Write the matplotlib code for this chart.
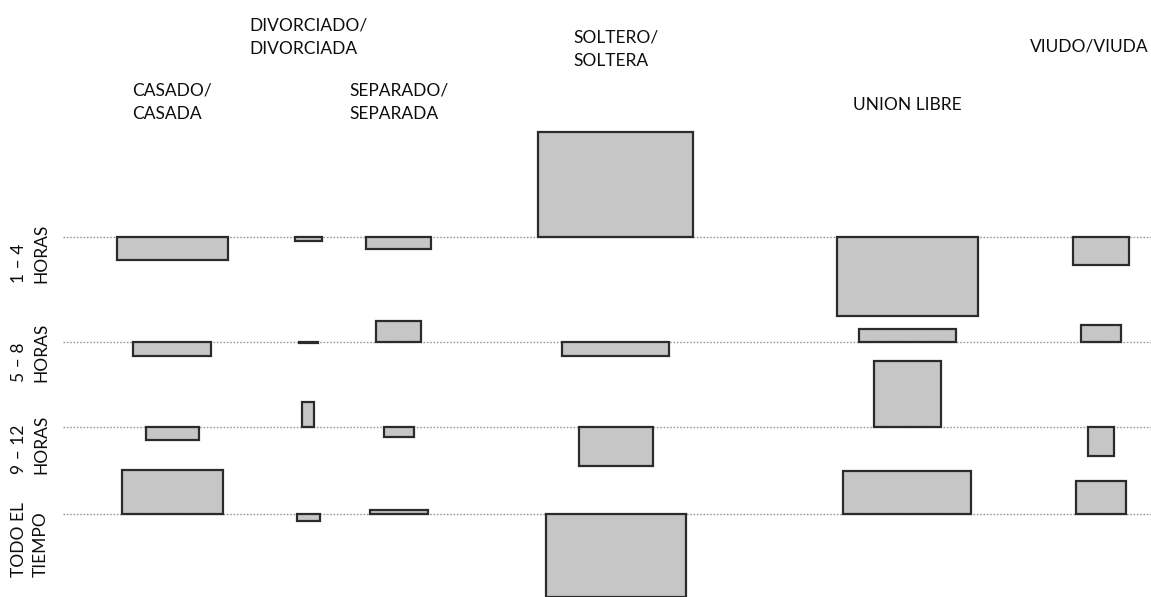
import matplotlib.pyplot as plt
import numpy as np

# Categorias (columnas: estado civil, filas: horas)
estado_civil = ["CASADO/\nCASADA", "DIVORCIADO/\nDIVORCIADA", "SEPARADO/\nSEPARADA",
                "SOLTERO/\nSOLTERA", "UNION LIBRE", "VIUDO/VIUDA"]
horas = ["1 – 4\nHORAS", "5 – 8\nHORAS", "9 – 12\nHORAS", "TODO EL\nTIEMPO"]

# raiz del valor esperado (ancho de cada caja)
raiz_esperado = np.array([
    [111, 27, 65, 155, 141, 56],
    [78, 19, 45, 107, 97, 40],
    [53, 12, 30, 74, 67, 26],
    [101, 23, 58, 140, 128, 50],
], dtype=float)

# residuo de Pearson (alto de cada caja, positivo = arriba)
residuo = np.array([
    [-23, -3.5, -12, 105, -79, -28],
    [-14, -1, 21, -14.5, 13, 17],
    [-13.5, 25, -10, -39, 66, -29],
    [43.5, -7.5, 4, -83, 43, 33],
], dtype=float)

# --- disposicion (estilo assocplot) ---
x0, y0 = 63, 132
esp_x = 1.97       # cada columna ocupa 1.97 veces su caja mas ancha
esp_y = 4.5        # hueco entre filas
ancho_col = raiz_esperado.max(axis=0) * esp_x
centros = x0 + np.cumsum(ancho_col) - ancho_col / 2

bases = []
cursor = y0
for i in range(len(horas)):
    arriba = max(residuo[i].max(), 0)
    abajo = max(-residuo[i].min(), 0)
    bases.append(cursor + arriba)
    cursor = cursor + arriba + abajo + esp_y
bases = np.array(bases)

fig = plt.figure(figsize=(11.51, 5.97), dpi=100)
ax = fig.add_axes([0, 0, 1, 1])
ax.set_xlim(0, 1151)
ax.set_ylim(597, 0)
ax.axis("off")

fuente = dict(family="Lato", fontsize=12.5, color="#0d0d0d")

# lineas base punteadas
for b in bases:
    ax.plot([x0, 1151], [b, b], color="#9a9a9a", lw=1.0, ls=(0, (1.2, 1.2)), zorder=1)

# cajas
for i in range(len(horas)):
    for j in range(len(estado_civil)):
        w = raiz_esperado[i, j]
        h = residuo[i, j]
        ax.bar(centros[j], -h, width=w, bottom=bases[i], color="#c6c6c6",
               edgecolor="#2b2b2b", linewidth=1.6, zorder=2)

# etiquetas de columnas (arriba, escalonadas); y = linea base de la ultima linea
base_texto = [119, 54, 119, 66, 110, 52]
for j, nombre in enumerate(estado_civil):
    if j == len(estado_civil) - 1:
        ax.text(1149, base_texto[j], nombre, ha="right", va="baseline", **fuente)
    else:
        ax.text(centros[j], base_texto[j], nombre, ha="center", va="baseline",
                multialignment="left", linespacing=1.55, **fuente)

# etiquetas de filas (giradas)
desplaz = [16, 11, 18, 26]
for i, nombre in enumerate(horas):
    ax.text(30, bases[i] + desplaz[i], nombre, rotation=90, ha="center", va="center",
            multialignment="left", linespacing=1.45, **fuente)

fig.savefig("out.png", dpi=100)
